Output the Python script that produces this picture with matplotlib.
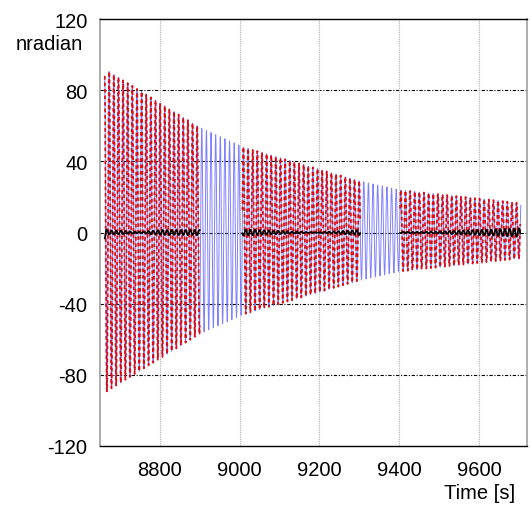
import numpy as np
import matplotlib
matplotlib.use("Agg")
import matplotlib.pyplot as plt

plt.rcParams['font.family'] = ['Liberation Sans', 'DejaVu Sans']

# ---- data ----
t_start, t_end = 8662, 9705          # time span of the measured signal [s]
period = 11.6                         # oscillation period [s]
offset = 1.0                          # small dc offset [nrad]
env_t = [8662, 8900, 9010, 9300, 9400, 9705]   # envelope sample times [s]
env_amp = [91, 58, 47, 28, 23, 15.5]           # envelope amplitudes [nrad]

fit_segments = [(8662, 8900), (9007, 9302), (9402, 9703)]   # red fit spans
# residual envelope (black) inside each segment
res_t = [[8662, 8668, 8700, 8750, 8800, 8900],
         [9007, 9040, 9100, 9190, 9250, 9302],
         [9402, 9450, 9500, 9600, 9703]]
res_amp = [[3.5, 1.2, 1.0, 0.4, 1.4, 1.5],
           [1.8, 1.5, 0.9, 0.1, 0.8, 1.5],
           [0.4, 0.4, 0.6, 1.5, 2.4]]

x_ticks = [8800, 9000, 9200, 9400, 9600]
y_ticks = [-120, -80, -40, 0, 40, 80, 120]

# ---- build curves ----
t = np.arange(t_start, t_end, 0.25)
env = np.interp(t, env_t, env_amp)
data = offset + env * np.cos(2 * np.pi * (t - t_start) / period + 0.3)

fig = plt.figure(figsize=(5.31, 5.10), dpi=100)
ax = fig.add_axes([100 / 531, 1 - 447 / 510, 427 / 531, 427 / 510])

ax.set_xlim(8650, 9720)
ax.set_ylim(-120, 120)

# grid
for y in [-80, -40, 0, 40, 80]:
    ax.axhline(y, color='black', lw=0.8, ls=(0, (3, 1.5, 1, 1.5)), zorder=0.5)
for x in x_ticks:
    ax.axvline(x, color='#b0b0b0', lw=0.8, ls=(0, (1, 1)), zorder=0.5)

ax.plot(t, data, color='#6a6aff', lw=0.7, alpha=0.85, zorder=2)

for (a, b), rt, ra in zip(fit_segments, res_t, res_amp):
    m = (t >= a) & (t <= b)
    ts = t[m]
    ax.plot(ts, data[m], color='#e00000', lw=1.3, ls=(0, (2, 1.6)),
            alpha=0.9, zorder=3)
    renv = np.interp(ts, rt, ra)
    resid = -renv * np.cos(2 * np.pi * (ts - t_start) / period + 0.3)
    ax.plot(ts, resid, color='black', lw=1.2, zorder=4)

# spines
for s in ['left', 'right']:
    ax.spines[s].set_color('#a0a0a0')
    ax.spines[s].set_linewidth(1.2)
for s in ['top', 'bottom']:
    ax.spines[s].set_color('black')
    ax.spines[s].set_linewidth(1.0)

ax.set_xticks(x_ticks)
ax.set_yticks(y_ticks)
ax.set_xticklabels([str(v) for v in x_ticks])
ax.set_yticklabels([str(v) for v in y_ticks])
ax.tick_params(length=0, labelsize=14.5, pad=9)
ax.tick_params(axis='x', pad=10)

fig.text(83 / 531, 1 - 44 / 510, 'nradian', ha='right', va='center', fontsize=14.5)
fig.text(515 / 531, 1 - 494 / 510, 'Time [s]', ha='right', va='center', fontsize=14.5)

fig.savefig('out.png', dpi=100)
